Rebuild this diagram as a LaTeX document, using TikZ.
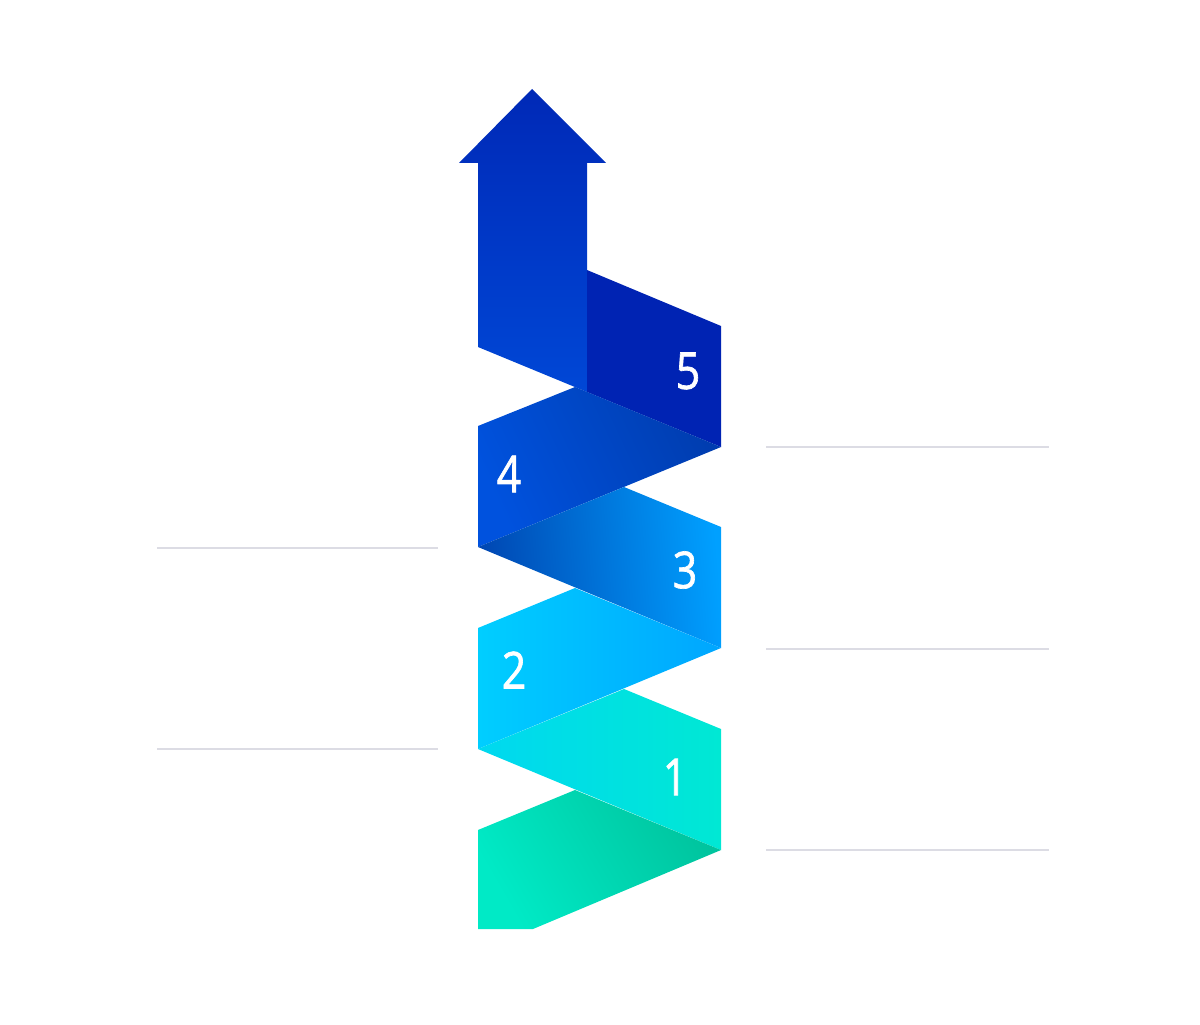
\documentclass[tikz,border=0pt]{standalone}
\usepackage{fontspec}
\setmainfont{Open Sans}
\newfontfamily\numfont[FakeStretch=0.84, FakeBold=1.3]{Open Sans}
\usepackage{tikz}
\usepackage{xcolor}

\definecolor{arrowtop}{HTML}{0029B7}
\definecolor{arrowbot}{HTML}{0047D6}
\definecolor{stepfive}{HTML}{0023B3}
\definecolor{fourlight}{HTML}{0052DE}
\definecolor{fourdark}{HTML}{003DB0}
\definecolor{threedark}{HTML}{0046B2}
\definecolor{threemid}{HTML}{0082F2}
\definecolor{threelight}{HTML}{00A0FF}
\definecolor{twoleft}{HTML}{00CEFF}
\definecolor{tworight}{HTML}{00A6FF}
\definecolor{oneleft}{HTML}{00D8F0}
\definecolor{oneright}{HTML}{00E8D4}
\definecolor{baselight}{HTML}{00EAC6}
\definecolor{basedark}{HTML}{00C49E}
\definecolor{guidegray}{HTML}{DCDCE4}

\tikzset{
    num/.style={text=white, font=\numfont\fontsize{14.5}{16}\selectfont, inner sep=0pt},
    guide/.style={draw=guidegray, line width=0.45pt}
}

\begin{document}
\begin{tikzpicture}[x=0.1mm, y=-0.1mm]
    \useasboundingbox (0,0) rectangle (1200,1024);

    % Arrow
    \shade[top color=arrowtop, bottom color=arrowbot] (532,89) -- (606,163) -- (587,163) -- (587,392) -- (478,347) -- (478,163) -- (459,163) -- cycle;

    % Step 5
    \fill[stepfive] (587,270) -- (721,326) -- (721,447) -- (587,392) -- cycle;
    \node[num] (n5) at (688,371) {5};

    % Step 4
    \shade[left color=fourlight, middle color=fourlight, right color=fourdark, shading angle=115] (478,426) -- (575,387) -- (721,447) -- (478,547) -- cycle;
    \node[num] (n4) at (509,474) {4};

    % Step 3
    \shade[left color=threedark, middle color=threemid, right color=threelight, shading angle=95] (478,547) -- (624,487) -- (721,527) -- (721,648) -- cycle;
    \node[num] (n3) at (685,570) {3};

    % Step 2
    \shade[left color=twoleft, right color=tworight] (478,628) -- (575,588) -- (721,648) -- (478,749) -- cycle;
    \node[num] (n2) at (514,670) {2};

    % Step 1
    \shade[left color=oneleft, right color=oneright] (478,749) -- (624,689) -- (721,729) -- (721,850) -- cycle;
    \node[num] (n1) at (675,777) {1};

    % Base
    \shade[left color=baselight, middle color=baselight, right color=basedark, shading angle=120] (478,830) -- (575,790) -- (721,850) -- (533,929) -- (478,929) -- cycle;

    % Guide lines
    \draw[guide] (157,548) -- (438,548);
    \draw[guide] (157,749) -- (438,749);
    \draw[guide] (766,447) -- (1049,447);
    \draw[guide] (766,649) -- (1049,649);
    \draw[guide] (766,850) -- (1049,850);
\end{tikzpicture}
\end{document}
